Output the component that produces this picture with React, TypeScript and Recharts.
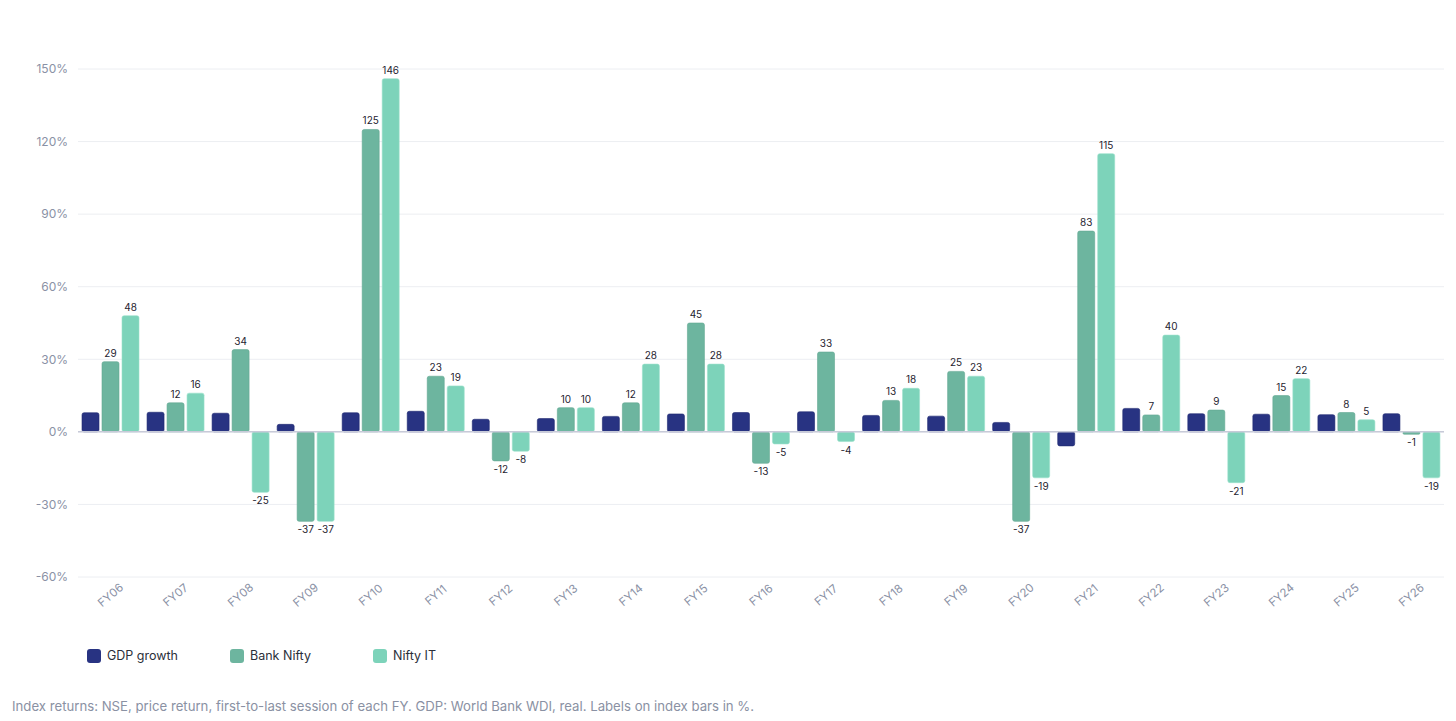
import React from "react";
import {
  BarChart,
  Bar,
  XAxis,
  YAxis,
  CartesianGrid,
  ReferenceLine,
  LabelList,
} from "recharts";

const years = [
  "FY06", "FY07", "FY08", "FY09", "FY10", "FY11", "FY12", "FY13", "FY14", "FY15", "FY16",
  "FY17", "FY18", "FY19", "FY20", "FY21", "FY22", "FY23", "FY24", "FY25", "FY26",
];
const gdpGrowth = [7.9, 8.1, 7.7, 3.1, 7.9, 8.5, 5.2, 5.5, 6.4, 7.4, 8.0, 8.3, 6.8, 6.5, 3.9, -5.8, 9.7, 7.5, 7.3, 7.1, 7.5];
const bankNifty = [29, 12, 34, -37, 125, 23, -12, 10, 12, 45, -13, 33, 13, 25, -37, 83, 7, 9, 15, 8, -1];
const niftyIT = [48, 16, -25, -37, 146, 19, -8, 10, 28, 28, -5, -4, 18, 23, -19, 115, 40, -21, 22, 5, -19];
const yTicks = [-60, -30, 0, 30, 60, 90, 120, 150];

const data = years.map((fy, i) => ({
  fy,
  gdp: gdpGrowth[i],
  bank: bankNifty[i],
  it: niftyIT[i],
}));

const FONT = "Inter, 'Noto Sans', sans-serif";
const COLORS = { gdp: "#283382", bank: "#6db59f", it: "#7dd3ba" };

const XTick = (props: any) => {
  const { x, y, payload } = props;
  const ty = y + 10;
  return (
    <text
      x={x}
      y={ty}
      textAnchor="middle"
      dominantBaseline="central"
      transform={`rotate(-40 ${x} ${ty})`}
      fill="#8a91a5"
      fontSize={11.5}
      fontFamily={FONT}
    >
      {payload.value}
    </text>
  );
};

const barLabel = (props: any) => {
  const { x, y, width, height, value } = props;
  const top = Math.min(y, y + height);
  const bottom = Math.max(y, y + height);
  const ly = value < 0 ? bottom + 12 : top - 5;
  return (
    <text
      x={x + width / 2}
      y={ly}
      textAnchor="middle"
      fill="#1f2430"
      fontSize={10}
      fontFamily={FONT}
    >
      {Math.round(value)}
    </text>
  );
};

const legendItems = [
  { name: "GDP growth", color: COLORS.gdp },
  { name: "Bank Nifty", color: COLORS.bank },
  { name: "Nifty IT", color: COLORS.it },
];

export default function App() {
  return (
    <div style={{ position: "relative", width: 1440, height: 705, fontFamily: FONT }}>
      <BarChart
        width={1440}
        height={640}
        data={data}
        margin={{ top: 61, right: 4, left: 0, bottom: 31 }}
        barCategoryGap={4}
        barGap={3}
      >
        <CartesianGrid vertical={false} stroke="#eceef2" />
        <XAxis
          dataKey="fy"
          axisLine={false}
          tickLine={false}
          interval={0}
          height={40}
          tick={<XTick />}
        />
        <YAxis
          width={70}
          domain={[-60, 150]}
          ticks={yTicks}
          axisLine={false}
          tickLine={false}
          tickMargin={4}
          tickFormatter={(v: number) => `${v}%`}
          tick={{ fill: "#8a91a5", fontSize: 12, fontFamily: FONT }}
        />
        <ReferenceLine y={0} stroke="#c7cad8" strokeWidth={1.5} />
        <Bar dataKey="gdp" fill={COLORS.gdp} stroke="#1f2870" strokeWidth={0.6} radius={2} isAnimationActive={false} />
        <Bar dataKey="bank" fill={COLORS.bank} stroke="#63a892" strokeWidth={0.6} radius={2} isAnimationActive={false}>
          <LabelList dataKey="bank" content={barLabel} />
        </Bar>
        <Bar dataKey="it" fill={COLORS.it} stroke="#9be0cb" strokeWidth={0.6} radius={2} isAnimationActive={false}>
          <LabelList dataKey="it" content={barLabel} />
        </Bar>
      </BarChart>
      <div style={{ position: "absolute", left: 79, top: 640, display: "flex" }}>
        {legendItems.map((item) => (
          <div key={item.name} style={{ width: 143, display: "flex", alignItems: "center" }}>
            <span
              style={{
                display: "inline-block",
                width: 14,
                height: 14,
                borderRadius: 3,
                background: item.color,
                marginRight: 6,
              }}
            />
            <span style={{ fontSize: 12.5, color: "#2b2f3a" }}>{item.name}</span>
          </div>
        ))}
      </div>
      <div
        style={{
          position: "absolute",
          left: 4,
          top: 690,
          fontSize: 13.2,
          color: "#8a91a3",
          whiteSpace: "nowrap",
        }}
      >
        Index returns: NSE, price return, first-to-last session of each FY. GDP: World Bank WDI, real. Labels on index bars in %.
      </div>
    </div>
  );
}
